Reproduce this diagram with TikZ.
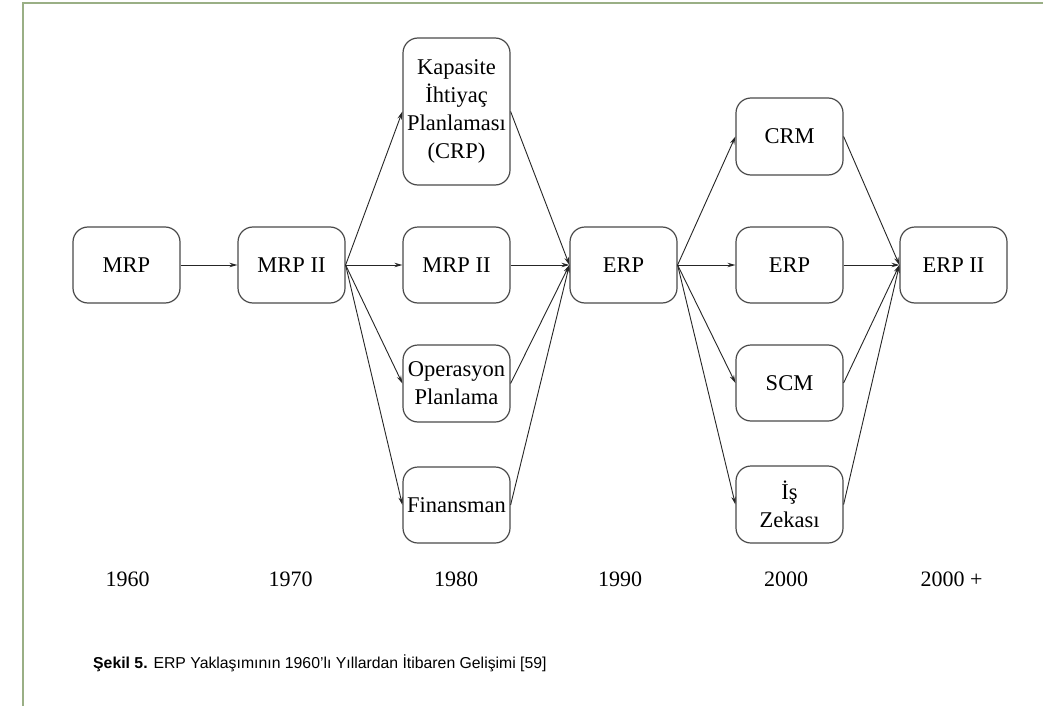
\documentclass[tikz,border=0pt]{standalone}
\usepackage{fontspec}
\setmainfont{Liberation Serif}
\newfontfamily\capfont{Liberation Sans}
\usetikzlibrary{arrows.meta}
\definecolor{frame}{HTML}{9AAF85}
\definecolor{boxline}{HTML}{4A4A4A}
\begin{document}
\begin{tikzpicture}[x=1pt,y=-1pt,
  box/.style={draw=boxline, line width=1.2pt, rounded corners=15pt, minimum width=107pt, minimum height=76pt, inner sep=0pt, align=center, font=\fontsize{22.5}{28}\selectfont},
  conn/.style={draw=black!85, line width=0.9pt, -{Stealth[length=8pt,width=4.5pt]}},
  year/.style={font=\fontsize{22}{25}\selectfont, inner sep=0pt}]
\useasboundingbox (0,0) rectangle (1043,706);
\fill[white] (0,0) rectangle (1043,706);
\draw[frame, line width=2pt] (1043,3) -- (23,3) -- (23,706);
% column 1-2
\node[box] (mrp) at (126.5,265) {MRP};
\node[box] (mrp2a) at (291.5,265) {MRP II};
% column 3
\node[box, minimum height=147pt] (crp) at (456.5,111.5) {Kapasite\\İhtiyaç\\Planlaması\\(CRP)};
\node[box] (mrp2b) at (456.5,265) {MRP II};
\node[box, minimum height=77pt] (ops) at (456.5,383.5) {Operasyon\\Planlama};
\node[box] (fin) at (456.5,505) {Finansman};
% column 4
\node[box] (erp1) at (623.5,265) {ERP};
% column 5
\node[box, minimum height=77pt] (crm) at (789.5,136.5) {CRM};
\node[box] (erp2) at (789.5,265) {ERP};
\node[box] (scm) at (789.5,383) {SCM};
\node[box, minimum height=77pt] (bi) at (789.5,504.5) {İş\\Zekası};
% column 6
\node[box] (erpii) at (953.5,265) {ERP II};
% connectors
\draw[conn] (mrp.east) -- (mrp2a.west);
\foreach \t in {crp,mrp2b,ops,fin} \draw[conn] (mrp2a.east) -- (\t.west);
\foreach \s in {crp,mrp2b,ops,fin} \draw[conn] (\s.east) -- (erp1.west);
\foreach \t in {crm,erp2,scm,bi} \draw[conn] (erp1.east) -- (\t.west);
\foreach \s in {crm,erp2,scm,bi} \draw[conn] (\s.east) -- (erpii.west);
% years
\node[year] (y1) at (127.5,579) {1960};
\node[year] (y2) at (290.5,579) {1970};
\node[year] (y3) at (456,579) {1980};
\node[year] (y4) at (620,579) {1990};
\node[year] (y5) at (786,579) {2000};
\node[year] (y6) at (951.5,579) {2000 +};
% caption
\node[anchor=west, inner sep=0pt, font=\capfont\fontsize{15.8}{18}\selectfont] (cap) at (93,663) {\textbf{Şekil 5.} ERP Yaklaşımının 1960’lı Yıllardan İtibaren Gelişimi [59]};
\end{tikzpicture}
\end{document}
